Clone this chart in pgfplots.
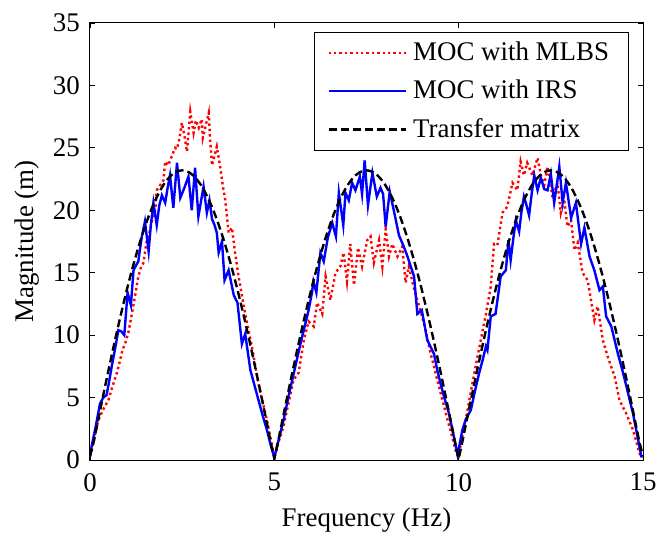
\documentclass[border=0pt]{standalone}
\usepackage{fontspec}
\setmainfont{Liberation Serif}
\usepackage{pgfplots}
\pgfplotsset{compat=1.18}

\newcommand{\bigf}{\fontsize{27}{30}\selectfont}

\begin{document}
\bigf
\begin{tikzpicture}[font=\bigf]
\begin{axis}[name=ax, scale only axis, width=553bp, height=437bp,
  xmin=0, xmax=15, ymin=0, ymax=35,
  xtick={0,5,10,15}, ytick={0,5,...,35},
  tick align=inside, major tick length=5bp,
  every tick/.style={black, line width=0.8bp},
  axis line style={line width=1bp},
  ticklabel style={font=\bigf},
  xticklabel style={yshift=-4bp},
  yticklabel style={xshift=-1bp},
  /pgf/number format/assume math mode=true,
  xlabel={Frequency (Hz)}, ylabel={Magnitude (m)},
  xlabel style={font=\bigf, yshift=2bp}, ylabel style={font=\bigf, yshift=-5bp},
  legend cell align=left,
  legend style={at={(rel axis cs:0.9747,0.979)}, anchor=north east,
    font=\bigf, draw=black, line width=1bp, fill=white,
    inner xsep=13bp, inner ysep=6bp, row sep=9.5bp,
    nodes={inner xsep=6.5bp, inner ysep=3bp}},
  legend image code/.code={\draw[#1] (0bp,0bp) -- (77bp,0bp);},
]
\addplot[red, line width=2.4bp, dash pattern=on 2.4bp off 3bp] coordinates {
(0,0.3)(0.05,0.8)(0.15,2.2)(0.23,3.2)(0.35,4.0)(0.5,4.8)(0.6,5.8)(0.72,6.9)(0.80,7.8)(0.88,8.8)(0.96,9.4)(1.04,10.2)(1.13,11.6)(1.22,13.1)(1.31,14.7)(1.38,15.4)(1.45,15.8)(1.54,17.6)(1.62,18.3)(1.70,19.4)(1.77,20.0)(1.81,21.6)(1.90,22.0)(1.99,22.4)(2.04,23.9)(2.12,23.6)(2.20,24.2)(2.31,25.0)(2.36,24.9)(2.43,25.8)(2.49,27.0)(2.56,26.0)(2.63,24.7)(2.72,27.9)(2.81,26.2)(2.87,27.2)(2.95,26.6)(3.03,27.3)(3.06,25.8)(3.14,26.8)(3.22,27.8)(3.26,25.6)(3.31,23.6)(3.38,24.4)(3.44,25.1)(3.53,23.5)(3.60,22.0)(3.67,20.8)(3.76,18.2)(3.85,18.6)(3.94,16.5)(4.03,14.7)(4.12,13.2)(4.21,11.7)(4.30,10.4)(4.39,9.1)(4.48,7.6)(4.57,6.1)(4.68,4.7)(4.80,3.2)(4.90,1.7)(5.00,0.2)
(5.12,1.5)(5.25,2.7)(5.38,4.5)(5.52,6.4)(5.66,7.0)(5.80,9.6)(5.93,11.1)(6.07,10.7)(6.16,12.6)(6.30,11.7)(6.39,14.7)(6.52,12.8)(6.66,15.0)(6.79,15.5)(6.88,16.6)(6.97,14.3)(7.06,17.3)(7.16,14.0)(7.27,17.0)(7.38,15.5)(7.52,17.6)(7.61,17.9)(7.70,15.8)(7.84,17.6)(7.93,15.5)(8.02,18.5)(8.11,16.3)(8.20,17.3)(8.34,16.3)(8.47,17.1)(8.56,14.2)(8.65,15.5)(8.79,13.7)(8.93,12.3)(9.07,10.8)(9.16,9.6)(9.24,8.5)(9.33,7.5)(9.42,6.4)(9.56,4.8)(9.70,3.2)(9.82,1.9)(9.94,0.5)
(10.0,0.3)(10.09,1.8)(10.19,3.2)(10.32,5.3)(10.46,7.5)(10.60,9.6)(10.74,11.7)(10.87,13.9)(10.96,17.3)(11.05,17.2)(11.12,18.5)(11.19,19.8)(11.32,20.3)(11.46,22.2)(11.59,21.6)(11.68,23.9)(11.77,22.8)(11.86,23.8)(12.00,22.8)(12.14,24.2)(12.23,22.8)(12.32,22.0)(12.41,23.5)(12.55,21.0)(12.68,22.2)(12.77,19.8)(12.86,20.9)(12.95,18.7)(13.05,19.2)(13.14,16.8)(13.23,17.4)(13.36,15.0)(13.50,14.4)(13.59,12.8)(13.68,11.2)(13.77,12.3)(13.91,9.6)(14.05,8.2)(14.23,6.7)(14.36,4.8)(14.55,3.7)(14.73,2.4)(14.91,0.5)(15.0,0.2)
};
\addlegendentry{MOC with MLBS}
\addplot[blue, line width=2.4bp] coordinates {
(0,0.3)(0.05,1.2)(0.15,2.6)(0.27,4.5)(0.36,5.0)(0.45,5.2)(0.52,6.3)(0.59,7.5)(0.68,8.9)(0.77,10.4)(0.85,10.3)(0.93,10.0)(1.02,13.4)(1.11,12.4)(1.18,15.2)(1.25,15.6)(1.31,15.9)(1.40,17.8)(1.49,19.1)(1.59,16.7)(1.65,18.8)(1.72,20.6)(1.81,18.8)(1.88,20.4)(1.95,21.2)(2.04,20.6)(2.10,21.7)(2.17,22.8)(2.26,20.2)(2.36,23.8)(2.45,21.0)(2.56,21.8)(2.67,22.7)(2.76,20.0)(2.85,23.4)(2.94,19.5)(3.08,21.9)(3.17,19.8)(3.24,20.8)(3.31,19.3)(3.38,18.8)(3.44,18.2)(3.49,16.6)(3.58,17.5)(3.65,14.4)(3.76,15.2)(3.83,14.2)(3.90,13.2)(4.00,12.6)(4.12,9.3)(4.21,10.1)(4.35,7.2)(4.46,6.0)(4.57,4.8)(4.68,3.6)(4.80,2.4)(4.90,1.2)(5.00,0.2)
(5.10,1.4)(5.25,3.2)(5.40,5.3)(5.57,7.5)(5.70,9.2)(5.84,10.9)(5.93,12.0)(6.02,13.4)(6.06,14.3)(6.14,13.4)(6.25,16.6)(6.34,15.9)(6.45,17.8)(6.57,19.0)(6.67,17.9)(6.75,21.4)(6.87,18.8)(6.93,21.4)(7.02,20.8)(7.11,22.2)(7.20,21.6)(7.32,22.7)(7.38,21.3)(7.45,24.0)(7.54,20.4)(7.66,23.0)(7.78,21.1)(7.88,21.8)(7.95,21.3)(8.02,18.7)(8.13,21.5)(8.24,20.0)(8.38,18.0)(8.51,17.1)(8.60,16.4)(8.70,15.5)(8.79,14.7)(8.88,11.7)(9.00,12.0)(9.15,9.6)(9.33,8.5)(9.42,7.2)(9.51,6.1)(9.62,4.9)(9.74,3.7)(9.86,2.0)(9.97,0.4)
(10.10,2.4)(10.20,3.3)(10.33,4.0)(10.44,5.5)(10.55,6.9)(10.65,8.0)(10.74,9.1)(10.78,8.8)(10.87,11.5)(11.00,11.7)(11.07,13.2)(11.14,14.7)(11.28,15.2)(11.35,17.6)(11.41,16.0)(11.48,17.7)(11.55,19.2)(11.64,18.3)(11.70,19.8)(11.77,21.1)(11.84,20.4)(11.91,19.6)(11.98,21.3)(12.05,22.8)(12.14,21.6)(12.23,22.6)(12.32,21.7)(12.41,21.6)(12.50,22.9)(12.59,20.6)(12.66,22.0)(12.73,23.5)(12.82,20.6)(12.91,22.2)(12.98,20.8)(13.05,19.4)(13.18,20.6)(13.32,17.3)(13.41,18.6)(13.55,16.3)(13.68,15.2)(13.82,13.6)(13.91,13.9)(14.00,11.5)(14.14,10.7)(14.23,9.6)(14.32,8.5)(14.44,7.2)(14.55,5.9)(14.64,4.8)(14.73,3.7)(14.85,1.9)(14.96,0.2)
};
\addlegendentry{MOC with IRS}
\addplot[black, line width=2.4bp, dash pattern=on 8bp off 4bp] coordinates {
(0,0.3)(0.1,1.46)(0.2,2.91)(0.3,4.35)(0.4,5.77)(0.5,7.17)(0.6,8.54)(0.7,9.88)(0.8,11.18)(0.9,12.43)(1.0,13.64)(1.1,14.79)(1.2,15.88)(1.3,16.91)(1.4,17.88)(1.5,18.77)(1.6,19.59)(1.7,20.33)(1.8,20.99)(1.9,21.57)(2.0,22.07)(2.1,22.47)(2.2,22.79)(2.3,23.02)(2.4,23.15)(2.5,23.2)(2.6,23.15)(2.7,23.02)(2.8,22.79)(2.9,22.47)(3.0,22.07)(3.1,21.57)(3.2,20.99)(3.3,20.33)(3.4,19.59)(3.5,18.77)(3.6,17.88)(3.7,16.91)(3.8,15.88)(3.9,14.79)(4.0,13.64)(4.1,12.43)(4.2,11.18)(4.3,9.88)(4.4,8.54)(4.5,7.17)(4.6,5.77)(4.7,4.35)(4.8,2.91)(4.9,1.46)(5.0,0.1)
(5.1,1.46)(5.2,2.91)(5.3,4.35)(5.4,5.77)(5.5,7.17)(5.6,8.54)(5.7,9.88)(5.8,11.18)(5.9,12.43)(6.0,13.64)(6.1,14.79)(6.2,15.88)(6.3,16.91)(6.4,17.88)(6.5,18.77)(6.6,19.59)(6.7,20.33)(6.8,20.99)(6.9,21.57)(7.0,22.07)(7.1,22.47)(7.2,22.79)(7.3,23.02)(7.4,23.15)(7.5,23.2)(7.6,23.15)(7.7,23.02)(7.8,22.79)(7.9,22.47)(8.0,22.07)(8.1,21.57)(8.2,20.99)(8.3,20.33)(8.4,19.59)(8.5,18.77)(8.6,17.88)(8.7,16.91)(8.8,15.88)(8.9,14.79)(9.0,13.64)(9.1,12.43)(9.2,11.18)(9.3,9.88)(9.4,8.54)(9.5,7.17)(9.6,5.77)(9.7,4.35)(9.8,2.91)(9.9,1.46)(10.0,0.1)
(10.1,1.46)(10.2,2.91)(10.3,4.35)(10.4,5.77)(10.5,7.17)(10.6,8.54)(10.7,9.88)(10.8,11.18)(10.9,12.43)(11.0,13.64)(11.1,14.79)(11.2,15.88)(11.3,16.91)(11.4,17.88)(11.5,18.77)(11.6,19.59)(11.7,20.33)(11.8,20.99)(11.9,21.57)(12.0,22.07)(12.1,22.47)(12.2,22.79)(12.3,23.02)(12.4,23.15)(12.5,23.2)(12.6,23.15)(12.7,23.02)(12.8,22.79)(12.9,22.47)(13.0,22.07)(13.1,21.57)(13.2,20.99)(13.3,20.33)(13.4,19.59)(13.5,18.77)(13.6,17.88)(13.7,16.91)(13.8,15.88)(13.9,14.79)(14.0,13.64)(14.1,12.43)(14.2,11.18)(14.3,9.88)(14.4,8.54)(14.5,7.17)(14.6,5.77)(14.7,4.35)(14.8,2.91)(14.9,1.46)(15.0,0.3)
};
\addlegendentry{Transfer matrix}
\end{axis}
\pgfresetboundingbox
\path[use as bounding box] ([shift={(-90bp,-81bp)}]ax.south west) rectangle ([shift={(568bp,460bp)}]ax.south west);
\end{tikzpicture}
\end{document}
